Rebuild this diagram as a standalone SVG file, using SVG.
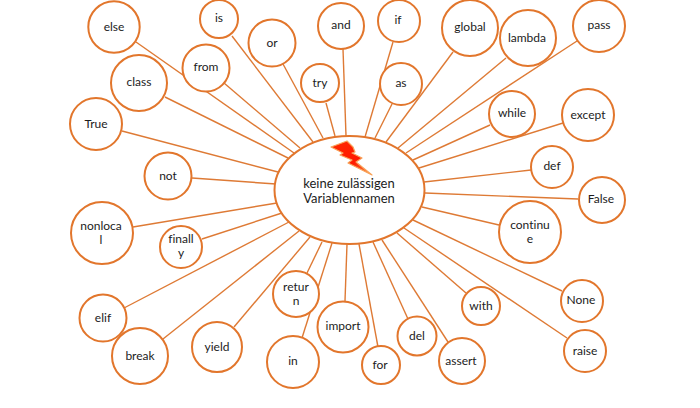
<svg xmlns="http://www.w3.org/2000/svg" width="700" height="408" viewBox="0 0 700 408">
<style>
.c line{stroke:#de7a35;stroke-width:1.4;fill:none}
.n circle,.n ellipse{fill:#fff;stroke:#e2762c;stroke-width:2}
text{font-family:"Lato","Open Sans","Liberation Sans",sans-serif;font-size:12px;fill:#1c1c1c;text-anchor:middle;font-variant-ligatures:none}
.m{font-size:13px}
.b{stroke:#f9a35a;stroke-width:1.2;stroke-linejoin:round}
</style>
<defs><linearGradient id="bolt" x1="0" y1="0" x2="1" y2="1"><stop offset="0" stop-color="#ff2a00"/><stop offset="0.6" stop-color="#ff1a00"/><stop offset="1" stop-color="#f79646"/></linearGradient></defs>
<rect width="700" height="408" fill="#fff"/>
<g id="connectors" class="c">
<line x1="136" y1="42" x2="294" y2="153"/>
<line x1="224" y1="83" x2="300" y2="148"/>
<line x1="165" y1="97" x2="288" y2="158"/>
<line x1="232" y1="36" x2="313" y2="142"/>
<line x1="283" y1="64" x2="323" y2="138"/>
<line x1="326" y1="103" x2="335" y2="136"/>
<line x1="343" y1="49" x2="346" y2="136"/>
<line x1="122" y1="131" x2="278" y2="172"/>
<line x1="192" y1="178" x2="276" y2="184"/>
<line x1="133" y1="227" x2="277" y2="203"/>
<line x1="202" y1="239" x2="282" y2="213"/>
<line x1="124" y1="308" x2="289" y2="222"/>
<line x1="163" y1="339" x2="299" y2="231"/>
<line x1="234" y1="327" x2="310" y2="237"/>
<line x1="307" y1="273" x2="322" y2="242"/>
<line x1="302" y1="338" x2="332" y2="243"/>
<line x1="345" y1="301" x2="347" y2="244"/>
<line x1="378" y1="347" x2="359" y2="244"/>
<line x1="408" y1="319" x2="373" y2="242"/>
<line x1="448" y1="342" x2="382" y2="240"/>
<line x1="466" y1="293" x2="397" y2="233"/>
<line x1="567" y1="338" x2="404" y2="228"/>
<line x1="562" y1="291" x2="413" y2="220"/>
<line x1="499" y1="225" x2="422" y2="207"/>
<line x1="578" y1="199" x2="425" y2="193"/>
<line x1="531" y1="170" x2="424" y2="182"/>
<line x1="563" y1="123" x2="419" y2="168"/>
<line x1="490" y1="125" x2="413" y2="160"/>
<line x1="577" y1="41" x2="406" y2="153"/>
<line x1="506" y1="58" x2="398" y2="148"/>
<line x1="453" y1="52" x2="386" y2="142"/>
<line x1="392" y1="104" x2="375" y2="138"/>
<line x1="393" y1="42" x2="365" y2="137"/>
</g>
<g id="center" class="n">
<ellipse cx="349.5" cy="190" rx="75" ry="54"/>
<polygon class="b" points="331,147 347,141 353,147 355,152 352,153 362,158 356,162 372,175 348,163 352,160 340,155 343,153" fill="url(#bolt)"/>
<text class="m" x="349" y="187.5">keine zulässigen</text>
<text class="m" x="349" y="203">Variablennamen</text>
</g>
<g id="else" class="n"><circle cx="114" cy="27" r="25.7"/><text x="114" y="31">else</text></g>
<g id="is" class="n"><circle cx="219" cy="19" r="19"/><text x="219" y="22">is</text></g>
<g id="or" class="n"><circle cx="272" cy="43" r="23.5"/><text x="272" y="47">or</text></g>
<g id="and" class="n"><circle cx="341" cy="26" r="23"/><text x="341" y="29">and</text></g>
<g id="from" class="n"><circle cx="206" cy="68" r="23.5"/><text x="206" y="71">from</text></g>
<g id="class" class="n"><circle cx="139" cy="83" r="28"/><text x="139" y="86">class</text></g>
<g id="try" class="n"><circle cx="320" cy="83" r="19"/><text x="320" y="87">try</text></g>
<g id="True" class="n"><circle cx="96" cy="124" r="26"/><text x="96" y="128">True</text></g>
<g id="not" class="n"><circle cx="168" cy="176" r="23.5"/><text x="168" y="180">not</text></g>
<g id="if" class="n"><circle cx="399" cy="21" r="21"/><text x="398" y="24">if</text></g>
<g id="global" class="n"><circle cx="470" cy="28" r="28"/><text x="470" y="31">global</text></g>
<g id="lambda" class="n"><circle cx="528" cy="38" r="28"/><text x="527" y="42">lambda</text></g>
<g id="pass" class="n"><circle cx="599" cy="26" r="26"/><text x="599" y="29">pass</text></g>
<g id="as" class="n"><circle cx="401" cy="84" r="21"/><text x="401" y="87">as</text></g>
<g id="while" class="n"><circle cx="512" cy="114" r="23"/><text x="512" y="117">while</text></g>
<g id="except" class="n"><circle cx="588" cy="115" r="26"/><text x="588" y="119">except</text></g>
<g id="def" class="n"><circle cx="552" cy="167" r="21"/><text x="552" y="170">def</text></g>
<g id="False" class="n"><circle cx="602" cy="200" r="23"/><text x="601" y="203">False</text></g>
<g id="continue" class="n"><circle cx="530" cy="232" r="31"/><text x="530" y="229">continu</text><text x="530" y="243">e</text></g>
<g id="None" class="n"><circle cx="582" cy="301" r="21"/><text x="581" y="304">None</text></g>
<g id="with" class="n"><circle cx="481" cy="306" r="19"/><text x="481" y="310">with</text></g>
<g id="raise" class="n"><circle cx="585" cy="351" r="21"/><text x="585" y="355">raise</text></g>
<g id="assert" class="n"><circle cx="462" cy="361" r="23"/><text x="461" y="365">assert</text></g>
<g id="del" class="n"><circle cx="417" cy="336" r="19.5"/><text x="417" y="340">del</text></g>
<g id="for" class="n"><circle cx="381" cy="365" r="19"/><text x="380" y="369">for</text></g>
<g id="import" class="n"><circle cx="343" cy="327" r="25.5"/><text x="343" y="330">import</text></g>
<g id="in" class="n"><circle cx="293" cy="362" r="26"/><text x="293" y="365">in</text></g>
<g id="return" class="n"><circle cx="296" cy="294" r="23"/><text x="296" y="291">retur</text><text x="296" y="305">n</text></g>
<g id="yield" class="n"><circle cx="217" cy="347" r="25"/><text x="217" y="351">yield</text></g>
<g id="elif" class="n"><circle cx="103" cy="318" r="23.5"/><text x="103" y="322">elif</text></g>
<g id="break" class="n"><circle cx="140" cy="356" r="28"/><text x="140" y="360">break</text></g>
<g id="finally" class="n"><circle cx="181" cy="247" r="21"/><text x="181" y="243">finall</text><text x="181" y="257">y</text></g>
<g id="nonlocal" class="n"><circle cx="102" cy="233" r="31"/><text x="101" y="230">nonloca</text><text x="101" y="244">l</text></g>
</svg>
